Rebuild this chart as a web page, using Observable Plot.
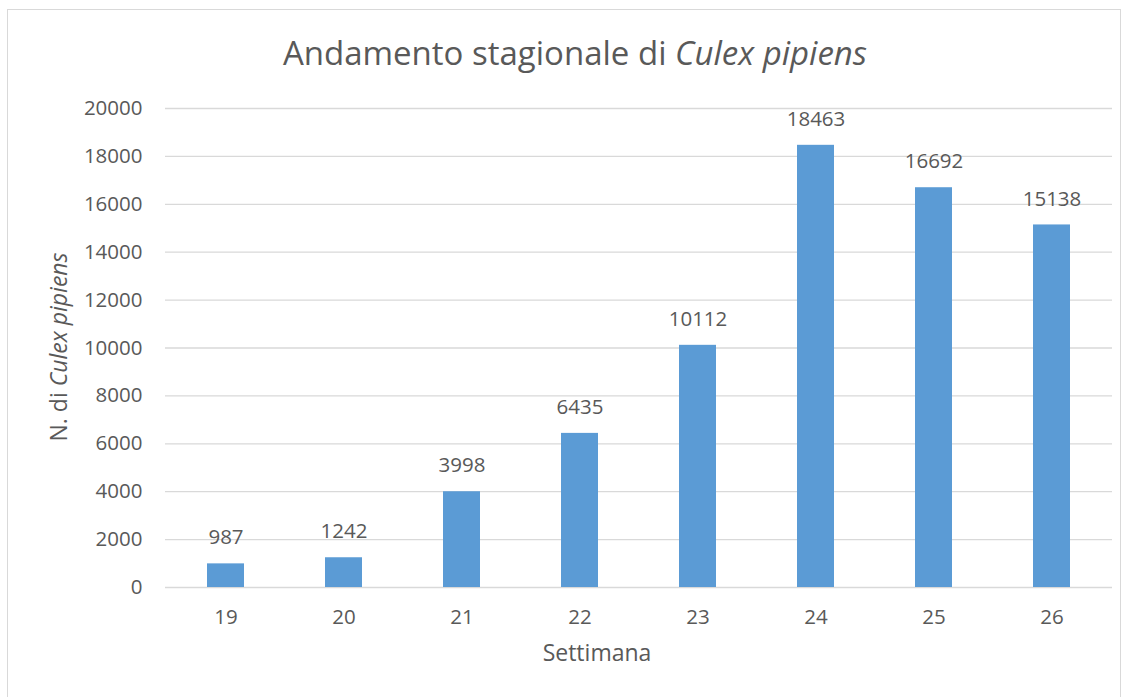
<!DOCTYPE html>
<html>
<head>
<meta charset="utf-8">
<script src="https://cdn.jsdelivr.net/npm/d3@7"></script>
<script src="https://cdn.jsdelivr.net/npm/@observablehq/plot@0.6"></script>
<style>
  html, body { margin: 0; padding: 0; background: #fff; }
  #wrap { position: relative; width: 1131px; height: 697px; overflow: hidden; font-family: "Open Sans", sans-serif; color: #595959; }
  #frame { position: absolute; left: 7px; top: 9px; width: 1114px; height: 700px; border: 1px solid #d9d9d9; box-sizing: border-box; }
  #title { position: absolute; left: 0; top: 33px; width: 1150px; text-align: center; font-size: 33px; line-height: 40px; white-space: nowrap; }
  #ylab { position: absolute; left: 58px; top: 347px; transform: translate(-50%, -50%) rotate(-90deg); font-size: 23px; white-space: nowrap; line-height: 26px; }
  #xlab { position: absolute; left: 597px; top: 652px; transform: translate(-50%, -50%); font-size: 23px; white-space: nowrap; line-height: 26px; }
  #chart { position: absolute; left: 0; top: 0; }
</style>
</head>
<body>
<div id="wrap">
  <div id="frame"></div>
  <div id="chart"></div>
  <div id="title">Andamento stagionale di <i>Culex pipiens</i></div>
  <div id="ylab">N. di <i>Culex pipiens</i></div>
  <div id="xlab">Settimana</div>
</div>
<script>
const weeks = ["19", "20", "21", "22", "23", "24", "25", "26"];
const counts = [987, 1242, 3998, 6435, 10112, 18463, 16692, 15138];
const yTicks = [0, 2000, 4000, 6000, 8000, 10000, 12000, 14000, 16000, 18000, 20000];

const data = weeks.map((w, i) => ({week: w, n: counts[i]}));

const chart = Plot.plot({
  width: 1131,
  height: 697,
  marginTop: 108,
  marginBottom: 110,
  marginLeft: 165,
  marginRight: 19,
  style: {fontFamily: "Open Sans, sans-serif", fontSize: "20px", color: "#595959", background: "transparent"},
  x: {domain: weeks, paddingInner: 0.685, paddingOuter: 0.3425, label: null},
  y: {domain: [0, 20000], ticks: yTicks, grid: false, label: null},
  marks: [
    Plot.ruleY(yTicks, {stroke: "#d9d9d9", strokeWidth: 1.3}),
    Plot.barY(data, {x: "week", y: "n", fill: "#5b9bd5"}),
    Plot.text(data, {x: "week", y: "n", text: d => String(d.n), dy: -26, fill: "#595959", fontSize: 20.5}),
    Plot.axisX({tickSize: 0, tickPadding: 22, fontSize: 20.5, label: null}),
    Plot.axisY(yTicks, {tickSize: 0, tickPadding: 23, fontSize: 20.5, tickFormat: d => String(d), label: null})
  ]
});
document.getElementById("chart").appendChild(chart);
</script>
</body>
</html>
